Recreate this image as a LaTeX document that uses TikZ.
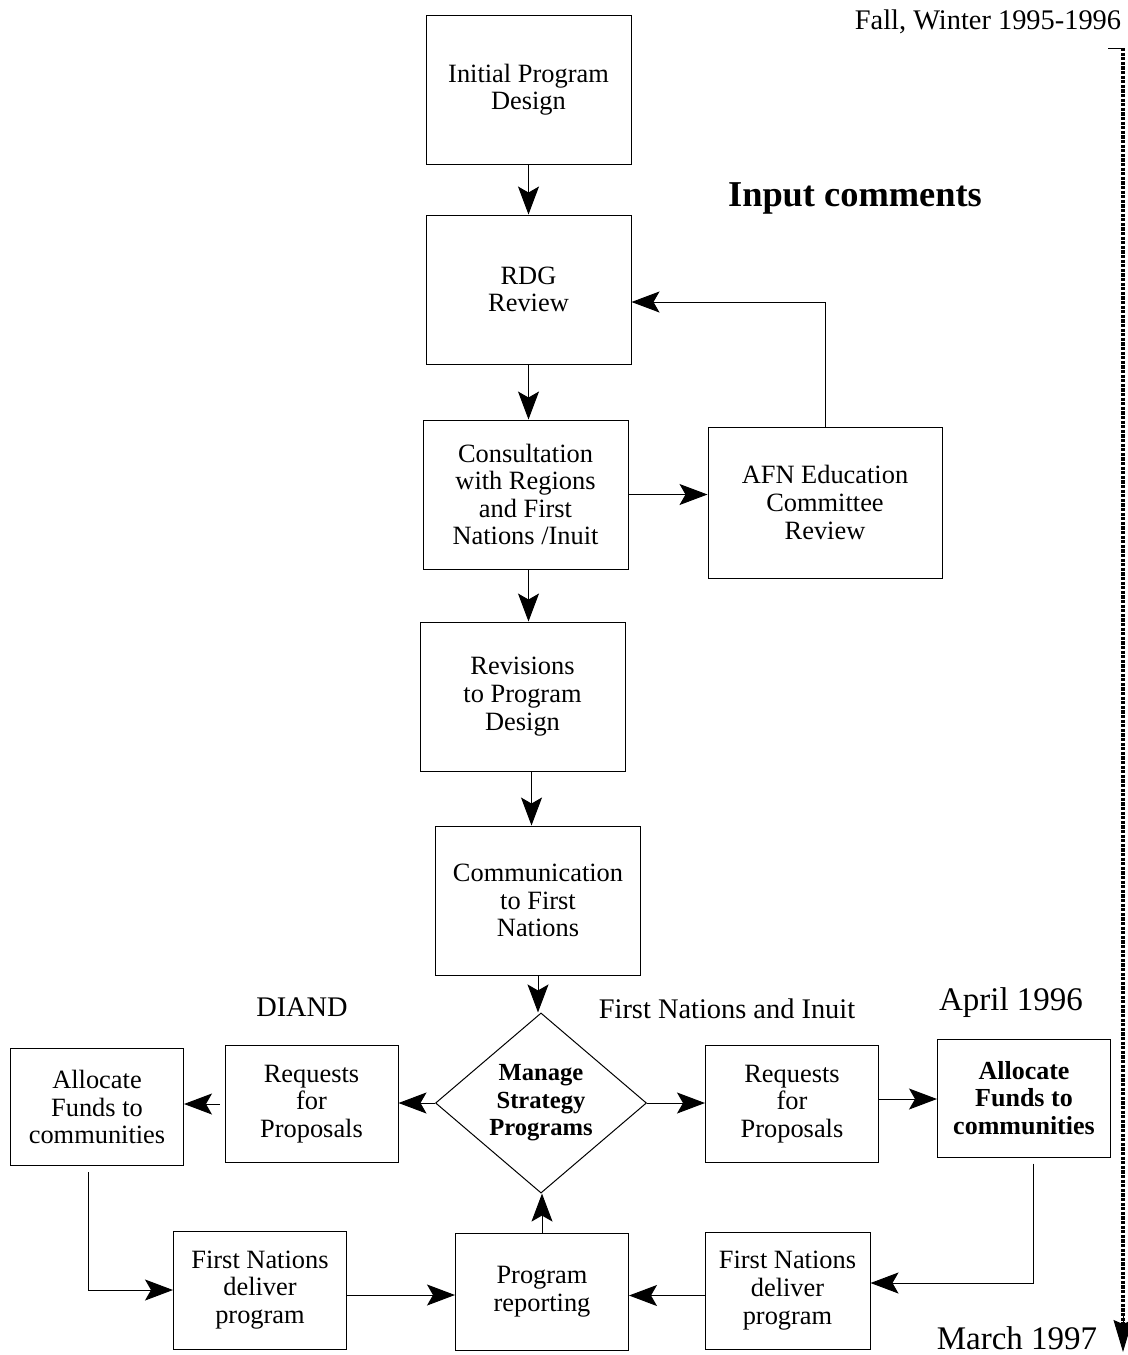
\documentclass[tikz,border=0pt]{standalone}
\usepackage{fontspec}
\setmainfont{Liberation Serif}
\usetikzlibrary{arrows.meta,shapes.geometric}

\newcommand{\bodysize}{\fontsize{13.2}{13.8}\selectfont}

\begin{document}
\begin{tikzpicture}[x=0.5pt,y=-0.5pt,
        box/.style={draw,line width=0.5pt,inner sep=0pt,align=center,font=\bodysize},
        big/.style={box,minimum width=102.5pt,minimum height=74.5pt},
        small/.style={box,minimum width=86.5pt,minimum height=58.5pt},
        decision/.style={draw,diamond,line width=0.5pt,inner sep=0pt,align=center,
            minimum width=105.5pt,minimum height=86.5pt,
            font=\bfseries\fontsize{12.3}{13.8}\selectfont},
        lbl/.style={inner sep=0pt,font=\fontsize{14.2}{16}\selectfont},
        datelbl/.style={inner sep=0pt,font=\fontsize{16.5}{18}\selectfont},
        arr/.style={line width=0.5pt,-{Stealth[length=14pt,width=10.5pt,inset=3pt]}}]
        \useasboundingbox (0,0) rectangle (1128,1355);

        % main column
        \node [big] (init) at(528.5,89.5) {Initial Program\\Design};
        \node [big] (rdg) at(528.5,289.5) {RDG\\Review};
        \node [big] (cons) at(525.5,494.5) {Consultation\\with Regions\\and First\\Nations /Inuit};
        \node [box,minimum width=117pt,minimum height=75.5pt] (afn) at(825,502.5) {AFN Education\\Committee\\Review};
        \node [big] (rev) at(522.5,696.5) {Revisions\\to Program\\Design};
        \node [big] (comm) at(538,900.5) {Communication\\to First\\Nations};
        \node [decision] (mgr) at(541,1103) {Manage\\Strategy\\Programs};

        % DIAND side
        \node [small] (rqL) at(311.5,1104) {Requests\\for\\Proposals};
        \node [small] (allL) at(97,1107) {Allocate\\Funds to\\communities};
        \node [small,minimum height=59pt] (fnl) at(260,1290) {First Nations\\deliver\\program};
        \node [small] (rep) at(542,1291.5) {Program\\reporting};

        % First Nations side
        \node [small] (rqR) at(792,1104) {Requests\\for\\Proposals};
        \node [small,minimum height=59pt,font=\bfseries\fontsize{13}{13.8}\selectfont] (allR) at(1024,1098) {Allocate\\Funds to\\communities};
        \node [small,minimum width=82.5pt] (fnr) at(787.5,1290.5) {First Nations\\deliver\\program};

        % labels
        \node [lbl] (season) at(988,22) {Fall, Winter 1995-1996};
        \node [inner sep=0pt,font=\bfseries\fontsize{18.2}{20}\selectfont] (input) at(855,198) {Input comments};
        \node [lbl] (diand) at(302,1007) {DIAND};
        \node [lbl] (fni) at(727,1009) {First Nations and Inuit};
        \node [datelbl] (april) at(1011,1003) {April 1996};
        \node [datelbl] (march) at(1017,1338) {March 1997};

        % connectors
        \draw [arr] (init.south)--(rdg.north);
        \draw [arr] (rdg.south)--(rdg.south |- cons.north);
        \draw [arr] (cons.east)--(cons.east -| afn.west);
        \draw [arr] (afn.north) |- ([yshift=-6.25pt]rdg.east);
        \draw [arr] ([xshift=1.5pt]cons.south)--([xshift=1.5pt]cons.south |- rev.north);
        \draw [arr] ([xshift=4.5pt]rev.south)--([xshift=4.5pt]rev.south |- comm.north);
        \draw [arr] (comm.south)--(comm.south |- mgr.north);
        \draw [arr] (mgr.west)--(mgr.west -| rqL.east);
        \draw [arr,shorten <=2.5pt] (rqL.west)--(rqL.west -| allL.east);
        \draw [arr] (mgr.east)--(mgr.east -| rqR.west);
        \draw [arr] ([yshift=2.5pt]rqR.east)--([yshift=2.5pt]rqR.east -| allR.west);
        \draw [arr] ([xshift=4.5pt,yshift=-3pt]allR.south) |- ([yshift=3.75pt]fnr.east);
        \draw [arr] ([xshift=-4.5pt,yshift=-3pt]allL.south) |- (fnl.west);
        \draw [arr] ([yshift=-2.5pt]fnl.east)--([yshift=-2.5pt]fnl.east -| rep.west);
        \draw [arr] ([yshift=-2.5pt]fnr.west)--([yshift=-2.5pt]fnr.west -| rep.east);
        \draw [arr] (rep.north)--(rep.north |- mgr.south);

        % time line
        \coordinate (tltop) at(1123,48);
        \coordinate (tlend) at(1123,1352);
        \draw [line width=0.5pt] (1108,48)--(tltop);
        \draw [line width=1.6pt,dash pattern=on 1.6pt off 0.7pt,shorten >=14pt] (tltop)--(tlend);
        \draw [line width=0.5pt,-{Stealth[length=16pt,width=9.5pt,inset=2pt]}] ([yshift=18pt]tlend)--(tlend);
    \end{tikzpicture}
\end{document}
